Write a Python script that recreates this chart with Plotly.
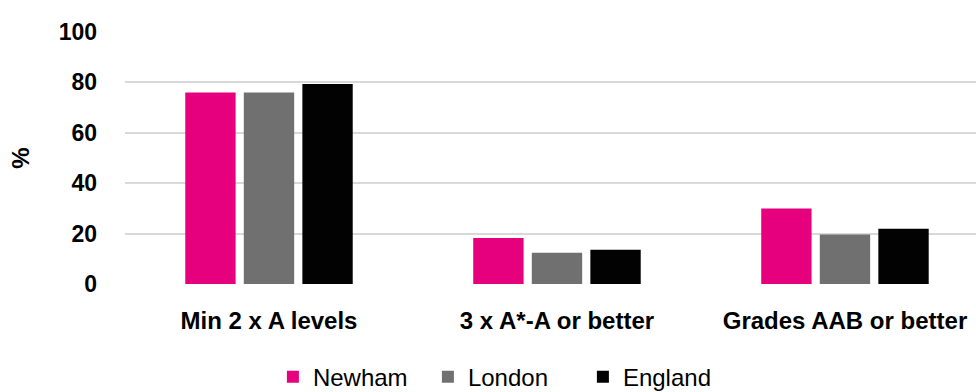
import plotly.graph_objects as go

categories = ["Min 2 x A levels", "3 x A*-A or better", "Grades AAB or better"]
newham = [76.0, 18.3, 30.0]
london = [76.0, 12.4, 19.6]
england = [79.4, 13.6, 21.9]
yticks = [0, 20, 40, 60, 80, 100]

series = [("Newham", newham, "#E6007E"), ("London", london, "#707070"), ("England", england, "#020202")]

fig = go.Figure()
for name, vals, col in series:
    fig.add_trace(go.Bar(x=categories, y=vals, name=name, marker=dict(color=col, line=dict(width=0))))

font = "Liberation Sans, Arial, sans-serif"
fig.update_layout(
    width=976, height=392,
    margin=dict(l=125, r=0, t=32, b=108, autoexpand=False),
    paper_bgcolor="white", plot_bgcolor="white",
    barmode="group", bargap=0.39, bargroupgap=0.14,
    font=dict(family=font, color="black"),
    showlegend=True,
    legend=dict(orientation="h", x=0.447, xanchor="center", y=-0.37, yanchor="middle",
                font=dict(size=24, family=font), itemwidth=30, entrywidth=110,
                traceorder="normal"),
)
fig.update_xaxes(range=[-0.5, 2.455], showgrid=False, showline=False, zeroline=False, automargin=False,
                 tickfont=dict(size=24, family=font, weight="bold"), ticks="", ticklabelstandoff=20)
fig.update_yaxes(range=[0, 100], tickvals=yticks, showgrid=True, gridcolor="#D9D9D9", gridwidth=2,
                 zeroline=False, showline=False, ticks="", automargin=False,
                 tickfont=dict(size=23, family=font, weight="bold"), ticklabelstandoff=27,
                 title=dict(text="%", font=dict(size=24, family=font, weight="bold"), standoff=22))
fig.write_html("out.html", config={"displayModeBar": False},
               post_script="document.body.style.margin='0';document.body.style.overflow='hidden';")
